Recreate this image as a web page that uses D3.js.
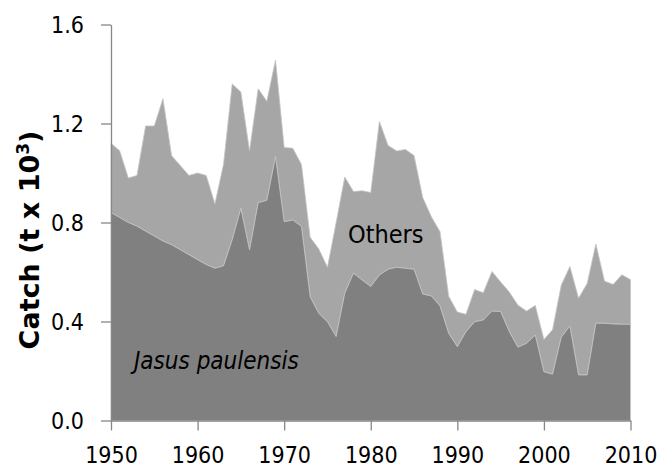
<!DOCTYPE html>
<html>
<head>
<meta charset="utf-8">
<style>
  body { margin: 0; background: #fff; }
  text { font-family: "DejaVu Sans Condensed", "DejaVu Sans", sans-serif; fill: #000; }
  .axis path, .axis line { stroke: #878787; stroke-width: 1.3px; }
</style>
<script src="https://d3js.org/d3.v7.min.js"></script>
</head>
<body>
<script>

    // years 1950..2010
    var years = d3.range(1950, 2011);

    // Jasus paulensis catch (t x 10^3)
    var jasus = [0.84, 0.82, 0.80, 0.785, 0.765, 0.745, 0.725, 0.71, 0.69, 0.67, 0.65, 0.63, 0.615,
                 0.625, 0.73, 0.857, 0.689, 0.88, 0.89, 1.066, 0.803, 0.81, 0.784,
                 0.50, 0.433, 0.399, 0.339, 0.514, 0.595, 0.568, 0.541, 0.588, 0.611,
                 0.619, 0.615, 0.611, 0.511, 0.503, 0.463, 0.352, 0.298, 0.359, 0.399,
                 0.406, 0.442, 0.44, 0.359, 0.296, 0.312, 0.345, 0.197, 0.187, 0.336,
                 0.382, 0.184, 0.184, 0.393, 0.393, 0.39, 0.389, 0.389];

    // other species
    var others = [0.28, 0.27, 0.18, 0.205, 0.425, 0.445, 0.575, 0.36, 0.34, 0.32, 0.35, 0.36, 0.26,
                  0.41, 0.63, 0.47, 0.40, 0.46, 0.40, 0.39, 0.30, 0.29, 0.25,
                  0.24, 0.26, 0.22, 0.46, 0.47, 0.33, 0.36, 0.38, 0.62, 0.50,
                  0.47, 0.48, 0.46, 0.39, 0.32, 0.30, 0.15, 0.14, 0.07, 0.13,
                  0.11, 0.16, 0.12, 0.16, 0.17, 0.13, 0.12, 0.13, 0.18, 0.21,
                  0.24, 0.31, 0.37, 0.32, 0.17, 0.16, 0.20, 0.18];

    var xTicks = [1950, 1960, 1970, 1980, 1990, 2000, 2010];
    var yTicks = [0, 0.4, 0.8, 1.2, 1.6];

    var width = 660, height = 466;
    var plotLeft = 111, plotRight = 630.5, plotTop = 24.5, plotBottom = 420.5;

    var svg = d3.select("body").append("svg")
        .attr("width", width)
        .attr("height", height);

    var x = d3.scaleLinear().domain([1950, 2010]).range([plotLeft, plotRight]);
    var y = d3.scaleLinear().domain([0, 1.6]).range([plotBottom, plotTop]);

    var table = years.map(function(yr, i) {
        return { year: yr, jasus: jasus[i], others: others[i] };
    });

    var series = d3.stack().keys(["jasus", "others"])(table);
    var fills = { jasus: "#808080", others: "#a6a6a6" };

    var area = d3.area()
        .x(function(d) { return x(d.data.year); })
        .y0(function(d) { return y(d[0]); })
        .y1(function(d) { return y(d[1]); });

    // draw others first so the boundary line of jasus sits on top
    svg.selectAll("path.layer")
      .data(series.slice().reverse())
      .enter().append("path")
      .attr("class", "layer")
      .attr("d", area)
      .style("fill", function(d) { return fills[d.key]; })
      .style("stroke", "#c4c4c4")
      .style("stroke-width", 0.8);

    // axes
    var gx = svg.append("g")
        .attr("class", "axis")
        .attr("transform", "translate(0," + plotBottom + ")")
        .call(d3.axisBottom(x).tickValues(xTicks).tickFormat(d3.format("d")).tickSize(10).tickSizeOuter(0));
    gx.attr("font-family", null).attr("font-size", null);
    gx.selectAll("text")
        .attr("y", 42)
        .attr("dy", 0)
        .style("font-size", "23px");

    var gy = svg.append("g")
        .attr("class", "axis")
        .attr("transform", "translate(" + plotLeft + ",0)")
        .call(d3.axisLeft(y).tickValues(yTicks).tickFormat(d3.format(".1f")).tickSize(10).tickSizeOuter(0));
    gy.attr("font-family", null).attr("font-size", null);
    gy.selectAll("text")
        .attr("x", -27)
        .attr("dy", "0.36em")
        .style("font-size", "23px");

    // axis title
    var title = svg.append("text")
        .attr("transform", "translate(39,240) rotate(-90)")
        .attr("text-anchor", "middle")
        .style("font-family", "'DejaVu Sans', sans-serif")
        .style("font-weight", "bold")
        .style("font-size", "27px");
    title.append("tspan").text("Catch (t x 10");
    title.append("tspan").attr("dy", -10).style("font-size", "17px").text("3");
    title.append("tspan").attr("dy", 10).text(")");

    // series labels
    svg.append("text")
        .attr("x", 348).attr("y", 243)
        .style("font-size", "25px")
        .text("Others");

    svg.append("text")
        .attr("x", 134).attr("y", 369)
        .style("font-size", "24px")
        .style("font-style", "italic")
        .text("Jasus paulensis");

</script>
</body>
</html>
